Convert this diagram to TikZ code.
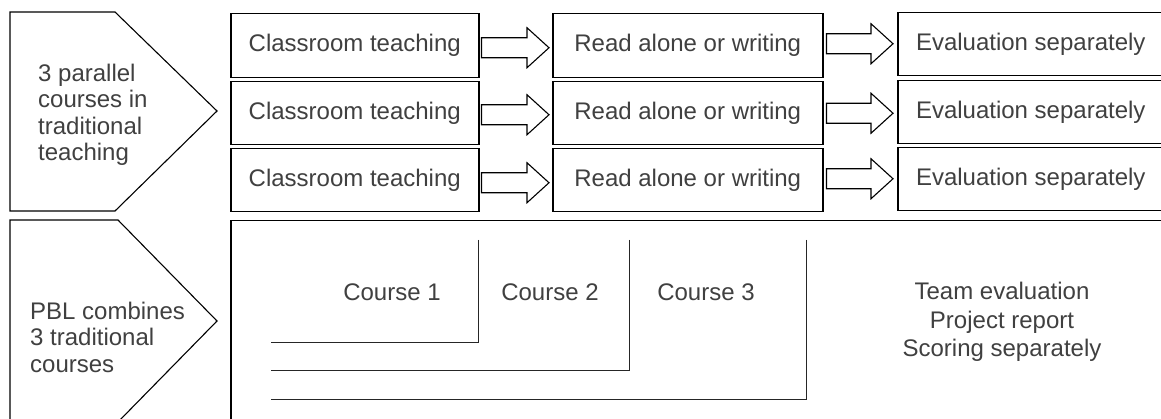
\documentclass[tikz,border=0pt]{standalone}
\usepackage{fontspec}
\setmainfont{Liberation Sans}
\usetikzlibrary{calc}
\newcommand{\blockarr}[5]{% #1 from node, #2 to node, #3 y offset, #4 start gap, #5 tip gap
  \path ($(#1.east)+(#4,#3)$) coordinate (arrS) ($(#2.west)+(-#5,#3)$) coordinate (arrT);
  \draw[arrowline] let \p1=(arrS), \p2=(arrT) in
    (\x1,\y1+10pt) -- (\x2-22pt,\y1+10pt) -- (\x2-22pt,\y1+20pt) -- (\x2,\y1)
    -- (\x2-22pt,\y1-20pt) -- (\x2-22pt,\y1-10pt) -- (\x1,\y1-10pt) -- cycle;}
\begin{document}
\begin{tikzpicture}[x=1pt,y=-1pt,
  txt/.style={font=\fontsize{24}{28}\selectfont, text=black!75},
  box/.style={draw, line width=1.5pt, inner sep=0pt, anchor=north west, txt},
  chev/.style={draw, line width=1.1pt},
  arrowline/.style={draw, line width=1.1pt, line join=miter},
  thinline/.style={draw, line width=0.8pt, black!85},
  lbl/.style={txt, inner sep=0pt},
]
\useasboundingbox (0,0) rectangle (1161,419);
\clip (0,0) rectangle (1161,419);
\fill[white] (0,0) rectangle (1161,419);

% left chevrons
\draw[chev] (10,12) -- (115,12) -- (217,111) -- (115,211) -- (10,211) -- cycle;
\node[lbl, anchor=west, align=left, font=\fontsize{24}{26.5}\selectfont] (trad) at (38,115)
  {3 parallel\\courses in\\traditional\\teaching};
\draw[chev] (10,220) -- (118,220) -- (217,321) -- (118,422) -- (10,422) -- cycle;
\node[lbl, anchor=west, align=left, font=\fontsize{24}{26.5}\selectfont] (pblt) at (30,337)
  {PBL combines\\3 traditional\\courses};

% traditional rows
\node[box, minimum width=248pt, minimum height=64pt] (ct1) at (230,13) {Classroom teaching};
\node[box, minimum width=248pt, minimum height=63pt] (ct2) at (230,81) {Classroom teaching};
\node[box, minimum width=248pt, minimum height=63pt] (ct3) at (230,148) {Classroom teaching};
\node[box, minimum width=270pt, minimum height=64pt] (ra1) at (552,13) {Read alone or writing};
\node[box, minimum width=270pt, minimum height=63pt] (ra2) at (552,81) {Read alone or writing};
\node[box, minimum width=270pt, minimum height=63pt] (ra3) at (552,148) {Read alone or writing};
\node[box, minimum width=266pt, minimum height=63pt] (ev1) at (897,12) {Evaluation separately};
\node[box, minimum width=266pt, minimum height=63pt] (ev2) at (897,80) {Evaluation separately};
\node[box, minimum width=266pt, minimum height=63pt] (ev3) at (897,147) {Evaluation separately};

\blockarr{ct1}{ra1}{2}{2}{3}
\blockarr{ct2}{ra2}{1.5}{2}{3}
\blockarr{ct3}{ra3}{2.5}{2}{3}
\blockarr{ra1}{ev1}{-2}{3}{4}
\blockarr{ra2}{ev2}{0}{3}{4}
\blockarr{ra3}{ev3}{-1.5}{3}{4}

% PBL box
\node[draw, line width=1.5pt, anchor=north west, minimum width=945pt, minimum height=210pt] (pbl) at (230,220) {};
\draw[thinline] (478,240) -- (478,342) -- (271,342);
\draw[thinline] (629,240) -- (629,370) -- (271,370);
\draw[thinline] (806,240) -- (806,399) -- (271,399);
\node[lbl] (c1) at (392,292) {Course 1};
\node[lbl] (c2) at (550,292) {Course 2};
\node[lbl] (c3) at (706,292) {Course 3};
\node[lbl, align=center, font=\fontsize{24}{28.5}\selectfont] (team) at (1002,322)
  {Team evaluation\\Project report\\Scoring separately};
\end{tikzpicture}
\end{document}
